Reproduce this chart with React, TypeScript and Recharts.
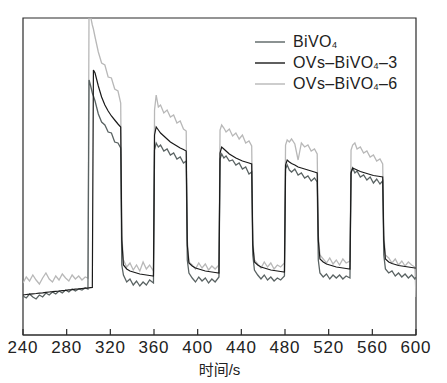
import { LineChart, Line, XAxis, YAxis, ReferenceArea } from 'recharts'

// time (s) - on/off light cycles every 30 s
const times = [
  240, 243, 246, 249, 252, 255, 258, 261, 264, 267, 270, 273, 276, 279, 282, 285, 288, 291, 294, 297, 299.5,
  300.5, 302, 303.5, 304.5, 306, 309, 312, 315, 318, 321, 324, 327, 329.5,
  330.5, 332, 335, 338, 341, 344, 347, 350, 353, 356, 359.5,
  360.5, 362, 364, 366, 369, 372, 375, 378, 381, 384, 387, 389.5,
  390.5, 392, 395, 398, 401, 404, 407, 410, 413, 416, 419.5,
  420.5, 422, 424, 426, 429, 432, 435, 438, 441, 444, 447, 449.5,
  450.5, 452, 455, 458, 461, 464, 467, 470, 473, 476, 479.5,
  480.5, 482, 484, 486, 489, 492, 495, 498, 501, 504, 507, 509.5,
  510.5, 512, 515, 518, 521, 524, 527, 530, 533, 536, 539.5,
  540.5, 542, 544, 546, 549, 552, 555, 558, 561, 564, 567, 569.5,
  570.5, 572, 575, 578, 581, 584, 587, 590, 593, 596, 599, 600,
]

// photocurrent, arbitrary units (no y scale in the figure)
const bivo4 = [
  39, 37, 41, 38, 36, 40, 38, 42, 40, 43, 41, 44, 42, 45, 43, 46, 44, 46, 45, 47, 46,
  255, 249, 242, 239, 234, 221, 213, 210, 203, 202, 193, 192, 187,
  70, 60, 53, 56, 50, 54, 49, 53, 50, 55, 52,
  185, 192, 188, 190, 184, 186, 180, 182, 176, 178, 172, 174,
  75, 62, 57, 53, 58, 54, 57, 52, 56, 53, 58,
  176, 181, 177, 179, 174, 175, 170, 172, 166, 168, 161, 163,
  80, 65, 60, 56, 60, 55, 58, 54, 57, 55, 59,
  166, 170, 165, 163, 166, 160, 162, 157, 159, 154, 157, 153,
  75, 62, 58, 61, 56, 60, 57, 60, 56, 59, 57,
  163, 167, 162, 164, 158, 160, 155, 158, 152, 156, 151, 154,
  80, 66, 62, 64, 59, 62, 58, 61, 57, 60, 56, 58,
]

const ovs3 = [
  40, 40.5, 40.8, 41.2, 41.5, 41.9, 42.2, 42.6, 43, 43.3, 43.7, 44, 44.4, 44.7, 45.1, 45.4, 45.8, 46.1, 46.5, 46.8, 47,
  47.2, 47.4, 47.6, 265, 262, 249, 238, 230, 224, 219, 215, 211, 208,
  95, 70, 66, 64, 63, 62, 61, 60.5, 60, 59.5, 59,
  200, 208, 205, 202, 199, 196, 193, 191, 189, 187, 185.5, 184,
  90, 72, 69, 67, 66, 65, 64, 63.5, 63, 62.5, 62,
  182, 188, 186, 184, 181, 179, 177, 175.5, 174, 173, 172, 171,
  90, 73, 70, 68, 67, 66, 65, 64.5, 64, 63.5, 63,
  170, 175, 173, 171.5, 170, 168, 167, 166, 165, 164, 163, 162,
  95, 76, 73, 71, 70, 69, 68, 67.5, 67, 66.5, 66,
  162, 167, 166, 165, 163.5, 162.5, 161.5, 160.5, 159.5, 159, 158.5, 158,
  95, 76, 73, 71.5, 70.5, 69.5, 69, 68.5, 68, 67.5, 67, 67,
]

const ovs6 = [
  52, 58, 54, 60, 55, 51, 57, 62, 56, 53, 59, 55, 61, 57, 54, 60, 56, 59, 55, 58, 57,
  330, 318, 310, 306, 298, 283, 272, 270, 258, 257, 246, 244, 232,
  100, 75, 68, 72, 65, 70, 64, 73, 66, 70, 64,
  225, 240, 228, 230, 222, 225, 218, 220, 212, 214, 206, 204,
  95, 73, 70, 66, 72, 67, 71, 65, 69, 66, 70,
  205, 210, 207, 203, 206, 199, 202, 196, 200, 192, 194, 189,
  95, 75, 71, 67, 73, 68, 72, 66, 70, 68, 72,
  190, 195, 193, 196, 191, 175, 192, 188, 190, 184, 186, 181,
  100, 80, 76, 72, 77, 71, 75, 70, 76, 72, 74,
  185, 190, 192, 186, 188, 182, 184, 178, 180, 174, 176, 171,
  100, 80, 77, 72, 76, 70, 74, 69, 73, 70, 68, 38,
]

const xTicks = [240, 280, 320, 360, 400, 440, 480, 520, 560, 600]

const data = times.map((t, i) => ({ t, a: bivo4[i], b: ovs3[i], c: ovs6[i] }))

const font = '"Liberation Sans", Arial, "Noto Sans CJK SC", sans-serif'
const frame = '#2a2a2a'

const series = [
  { key: 'a', color: '#5a6363', name: 'BiVO', suffix: '' },
  { key: 'b', color: '#1a1a1a', name: 'OVs–BiVO', suffix: '–3' },
  { key: 'c', color: '#b8b8b8', name: 'OVs–BiVO', suffix: '–6' },
]

function TimeTick({ x, y, payload }: any) {
  return (
    <g>
      <line x1={x} x2={x} y1={y - 6} y2={y} stroke={frame} strokeWidth={1.2} />
      <text x={x} y={y + 18} textAnchor="middle" fontSize={17} letterSpacing={0.8} fill="#222" fontFamily={font}>
        {payload.value}
      </text>
    </g>
  )
}

function LegendBox() {
  return (
    <div style={{ position: 'absolute', left: 255, top: 31, fontFamily: font, fontSize: 16, color: '#222', letterSpacing: 0.4 }}>
      {series.map((s) => (
        <div key={s.key} style={{ display: 'flex', alignItems: 'center', height: 21 }}>
          <svg width={30} height={4} style={{ marginRight: 8 }}>
            <line x1={0} x2={30} y1={2} y2={2} stroke={s.color} strokeWidth={1.4} />
          </svg>
          <span>
            {s.name}
            <sub style={{ fontSize: 9, verticalAlign: '-1px' }}>4</sub>
            {s.suffix}
          </span>
        </div>
      ))}
    </div>
  )
}

export default function App() {
  return (
    <div style={{ position: 'absolute', left: 0, top: 0, width: 447, height: 383, background: '#fff' }}>
      <LineChart width={447} height={383} data={data} margin={{ top: 18, right: 31, left: 23, bottom: 0 }}>
        <XAxis
          dataKey="t"
          type="number"
          domain={[240, 600]}
          ticks={xTicks}
          allowDataOverflow
          tickLine={false}
          tickSize={0}
          tickMargin={0}
          tick={<TimeTick />}
          height={48}
          axisLine={{ stroke: frame, strokeWidth: 1.2 }}
          label={{ value: '时间/s', position: 'insideBottom', offset: 8, fill: '#222', fontSize: 15, fontFamily: font }}
        />
        <YAxis domain={[0, 317]} allowDataOverflow width={0} tick={false} tickLine={false} axisLine={false} />
        <ReferenceArea x1={240} x2={600} y1={0} y2={317} fill="none" stroke={frame} strokeWidth={1.2} />
        <Line dataKey="c" stroke="#b8b8b8" strokeWidth={1.3} dot={false} type="linear" isAnimationActive={false} />
        <Line dataKey="a" stroke="#5a6363" strokeWidth={1.3} dot={false} type="linear" isAnimationActive={false} />
        <Line dataKey="b" stroke="#1a1a1a" strokeWidth={1.2} dot={false} type="linear" isAnimationActive={false} />
      </LineChart>
      <LegendBox />
    </div>
  )
}
